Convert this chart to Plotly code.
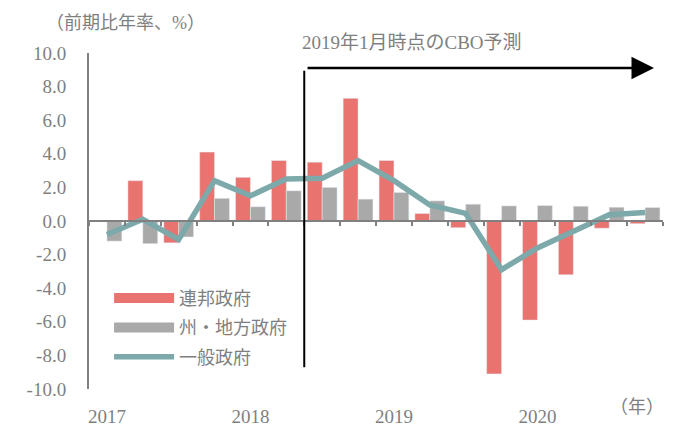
import plotly.graph_objects as go

# quarterly, 2017Q1 .. 2020Q4 (annualised q/q, %)
quarters = list(range(16))
federal = [0.0, 2.4, -1.3, 4.1, 2.6, 3.6, 3.5, 7.3, 3.6, 0.45, -0.4, -9.1, -5.9, -3.2, -0.43, -0.16]
state_local = [-1.2, -1.35, -0.95, 1.35, 0.85, 1.8, 2.0, 1.3, 1.7, 1.2, 1.0, 0.9, 0.92, 0.88, 0.82, 0.8]
general = [-0.8, 0.1, -1.1, 2.4, 1.5, 2.5, 2.55, 3.6, 2.4, 0.95, 0.45, -2.9, -1.6, -0.6, 0.37, 0.5]

year_pos = [0, 4, 8, 12]
year_labels = ["2017", "2018", "2019", "2020"]
y_ticks = [-10, -8, -6, -4, -2, 0, 2, 4, 6, 8, 10]
y_labels = ["-10.0", "-8.0", "-6.0", "-4.0", "-2.0", "0.0", "2.0", "4.0", "6.0", "8.0", "10.0"]

RED = "#E8736F"
GREY = "#A9A9A9"
TEAL = "#7DA9AB"
TEXT = "#7F7F7F"
FONT = "Liberation Serif, Noto Sans CJK JP, serif"

fig = go.Figure()
fig.add_trace(go.Bar(x=quarters, y=federal, marker_color=RED, showlegend=False))
fig.add_trace(go.Bar(x=quarters, y=state_local, marker_color=GREY, showlegend=False))
fig.add_trace(go.Scatter(x=quarters, y=general, mode="lines",
                         line=dict(color=TEAL, width=5.5), showlegend=False))

# legend entries
for name, color, width in [("連邦政府", RED, 10), ("州・地方政府", GREY, 10), ("一般政府", TEAL, 5.5)]:
    fig.add_trace(go.Scatter(x=[None], y=[None], mode="lines", name=name,
                             legendgroup=name, line=dict(color=color, width=width)))

# forecast marker
fig.add_shape(type="line", x0=5.5, x1=5.5, y0=-8.7, y1=8.95,
              line=dict(color="black", width=2))
fig.add_annotation(x=15.25, y=9.1, ax=5.55, ay=9.1, xref="x", yref="y", axref="x", ayref="y",
                   text="", showarrow=True, arrowhead=2, arrowsize=1.8, arrowwidth=2.5,
                   arrowcolor="black")
fig.add_annotation(x=0.368, y=1.032, xref="paper", yref="paper", text="2019年1月時点のCBO予測",
                   showarrow=False, xanchor="left", yanchor="middle",
                   font=dict(size=19, color=TEXT))
fig.add_annotation(x=-0.078, y=1.088, xref="paper", yref="paper", text="（前期比年率、%）",
                   showarrow=False, xanchor="left", yanchor="middle",
                   font=dict(size=18, color=TEXT))
fig.add_annotation(x=1.005, y=-0.053, xref="paper", yref="paper", text="（年）",
                   showarrow=False, xanchor="right", yanchor="middle",
                   font=dict(size=18, color=TEXT))

fig.update_layout(
    width=694, height=439,
    margin=dict(l=89, r=31, t=53, b=44),
    paper_bgcolor="white", plot_bgcolor="white",
    font=dict(family=FONT, size=19, color=TEXT),
    barmode="group", bargap=0.17, bargroupgap=0,
    legend=dict(x=0.035, y=0.325, xanchor="left", yanchor="top",
                bgcolor="rgba(0,0,0,0)", font=dict(size=18, color=TEXT),
                tracegroupgap=3, itemwidth=60),
    xaxis=dict(range=[-0.5, 15.5], tickvals=year_pos, ticktext=year_labels,
               showline=False, showgrid=False, zeroline=False, ticks="",
               ticklabelstandoff=14),
    xaxis2=dict(overlaying="x", matches="x", anchor="free", position=0.5, side="bottom",
                showline=True, linecolor="#808080", linewidth=2,
                ticks="outside", ticklen=4, tickwidth=1.5, tickcolor="#808080",
                tickvals=[q + 0.5 for q in quarters[:-1]] + [-0.5, 15.5],
                showticklabels=False, showgrid=False, zeroline=False),
    yaxis=dict(range=[-10, 10], tickvals=y_ticks, ticktext=y_labels,
               showline=True, linecolor="#808080", linewidth=2,
               showgrid=False, zeroline=False, ticks="", ticklabelstandoff=17),
)
# dummy trace to show xaxis2
fig.add_trace(go.Scatter(x=[None], y=[None], xaxis="x2", showlegend=False))

fig.write_html("out.html", config={"displayModeBar": False},
               post_script="document.body.style.margin = '0';")
